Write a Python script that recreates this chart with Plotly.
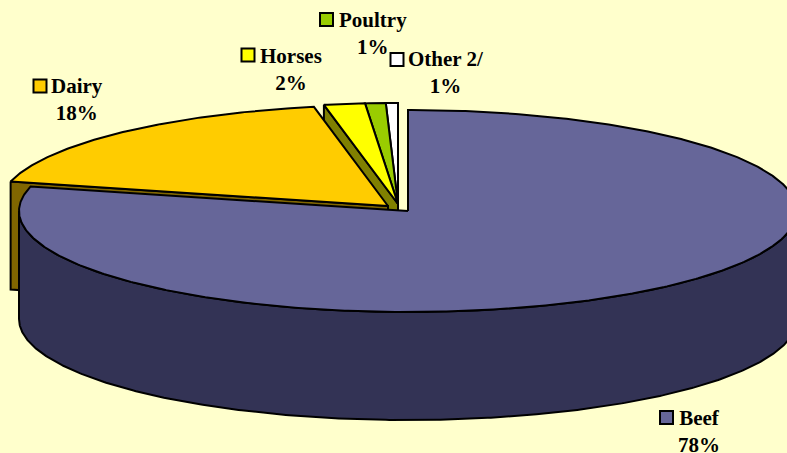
import numpy as np
import plotly.graph_objects as go

categories = ["Beef", "Dairy", "Horses", "Poultry", "Other 2/"]
shares = [78.9, 18.05, 1.7, 0.85, 0.5]      # slice sizes
percent_labels = ["78%", "18%", "2%", "1%", "1%"]

top_colors = ["#666699", "#FFCC00", "#FFFF00", "#99CC00", "#FFFFFF"]
side_colors = ["#333355", "#806600", "#808000", "#4D6600", "#808080"]
centers = [(408, 211), (388, 206), (398, 204), (398, 204), (398, 204)]
label_pos = [(699, 431), (77, 99.5), (291, 69.5), (373, 33), (446, 72.5)]
key_pos = [(666.5, 417.5), (40, 86), (248, 55), (326.5, 19.5), (397, 59.5)]

RX, RY, DEPTH = 389, 101, 108
BG = "#FFFFCC"
LW = 2

edges = np.concatenate([[0], np.cumsum(shares)]) * 3.6
start = dict(zip(categories, edges[:-1]))
end = dict(zip(categories, edges[1:]))
idx = {c: i for i, c in enumerate(categories)}


def rim(c, a0, a1, dy=0):
    t = np.radians(np.linspace(a0, a1, max(int(abs(a1 - a0) * 2), 2)))
    cx, cy = centers[idx[c]]
    return cx + RX * np.sin(t), cy - RY * np.cos(t) + dy


def poly(xs, ys, color):
    return go.Scatter(x=list(xs), y=list(ys), mode="lines", fill="toself", fillcolor=color,
                      line=dict(color="black", width=LW), hoverinfo="skip", showlegend=False)


def top(c):
    x, y = rim(c, start[c], end[c])
    cx, cy = centers[idx[c]]
    return poly(np.r_[cx, x, cx], np.r_[cy, y, cy], top_colors[idx[c]])


def cut_face(c, angle):
    x, y = rim(c, angle, angle)
    cx, cy = centers[idx[c]]
    return poly([x[0], cx, cx, x[0], x[0]],
                [y[0], cy, cy + DEPTH, y[0] + DEPTH, y[0]], side_colors[idx[c]])


fig = go.Figure()
# back pieces first, the beef slice last since it sits in front of everything
fig.add_trace(cut_face("Horses", start["Horses"]))
fig.add_trace(top("Other 2/"))
fig.add_trace(top("Poultry"))
fig.add_trace(top("Horses"))
fig.add_trace(cut_face("Dairy", start["Dairy"]))
fig.add_trace(top("Dairy"))

wx, wy = rim("Beef", 90, 270)
wx2, wy2 = rim("Beef", 270, 90, DEPTH)
fig.add_trace(poly(np.r_[wx, wx2, wx[0]], np.r_[wy, wy2, wy[0]], side_colors[0]))
fig.add_trace(top("Beef"))

fig.add_trace(go.Scatter(
    x=[p[0] for p in key_pos], y=[p[1] for p in key_pos], mode="markers",
    marker=dict(symbol="square", size=13, color=top_colors, line=dict(color="black", width=2)),
    hoverinfo="skip", showlegend=False))

for c, pct, (lx, ly) in zip(categories, percent_labels, label_pos):
    fig.add_annotation(x=lx, y=ly, xref="x", yref="y", text=f"<b>{c}<br>{pct}</b>",
                       showarrow=False, align="center", xanchor="center", yanchor="middle",
                       font=dict(family="Liberation Serif", size=21, color="black"))

fig.update_layout(
    width=787, height=453, margin=dict(l=0, r=0, t=0, b=0),
    paper_bgcolor=BG, plot_bgcolor=BG, showlegend=False,
    xaxis=dict(range=[0, 787], visible=False, fixedrange=True),
    yaxis=dict(range=[453, 0], visible=False, fixedrange=True),
)
fig.write_html("out.html", config={"displayModeBar": False},
               post_script="document.body.style.margin='0';document.body.style.overflow='hidden';")
